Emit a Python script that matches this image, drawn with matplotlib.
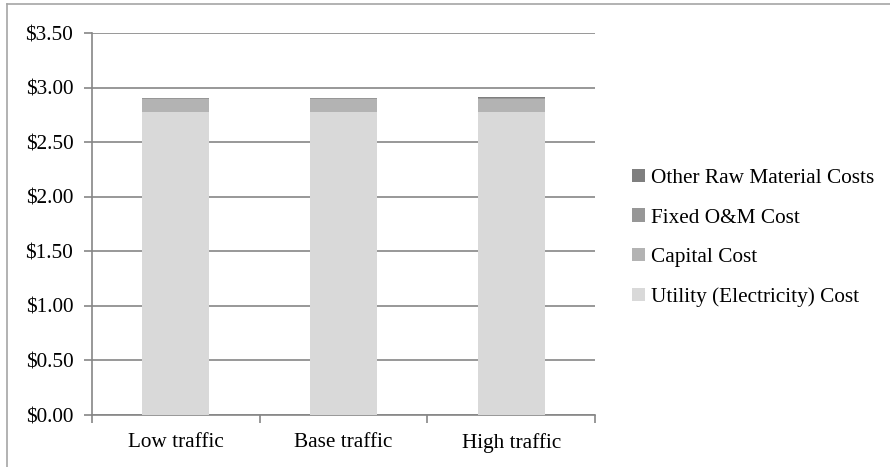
import numpy as np
import matplotlib.pyplot as plt
from matplotlib.patches import Patch
from matplotlib.lines import Line2D

# cost per unit, by traffic scenario
scenarios = ["Low traffic", "Base traffic", "High traffic"]
utility = [2.78, 2.78, 2.78]
capital = [0.115, 0.115, 0.115]
fixed_om = [0.006, 0.010, 0.012]
other_raw = [0.002, 0.002, 0.003]

series = [
    ("Utility (Electricity) Cost", utility, "#d9d9d9"),
    ("Capital Cost", capital, "#b3b3b3"),
    ("Fixed O&M Cost", fixed_om, "#979797"),
    ("Other Raw Material Costs", other_raw, "#7f7f7f"),
]

plt.rcParams["font.family"] = ["Liberation Serif", "DejaVu Serif"]
FS = 15.3

fig = plt.figure(figsize=(8.9, 4.67), dpi=100)
ax = fig.add_axes([92 / 890, 1 - 415 / 467, (595 - 92) / 890, (415 - 33) / 467])

x = np.arange(len(scenarios))
bottom = np.zeros(len(scenarios))
handles = []
for name, vals, color in series:
    ax.bar(x, vals, width=0.4, bottom=bottom, color=color, zorder=3)
    bottom += np.array(vals)
    handles.append(Patch(facecolor=color, label=name))

ax.set_xlim(-0.5, len(scenarios) - 0.5)
ax.set_ylim(0, 3.5)
ax.set_yticks(np.arange(0, 3.51, 0.5))
ax.set_yticklabels([f"${v:.2f}" for v in np.arange(0, 3.51, 0.5)])
ax.yaxis.grid(True, color="#868686", linewidth=1.2, zorder=0)

ax.set_xticks(x)
ax.set_xticklabels(scenarios)
ax.set_xticks(np.arange(-0.5, len(scenarios)), minor=True)
ax.tick_params(axis="x", which="major", length=0, pad=13, labelsize=FS)
ax.tick_params(axis="x", which="minor", length=6, color="#868686", width=1.2)
ax.tick_params(axis="y", length=6, color="#868686", width=1.2, pad=7.5, labelsize=FS)

for side in ["top", "right"]:
    ax.spines[side].set_visible(False)
for side in ["left", "bottom"]:
    ax.spines[side].set_color("#868686")
    ax.spines[side].set_linewidth(1.2)

leg = fig.legend(handles=handles[::-1], loc="center left",
                 bbox_to_anchor=(613 / 890, 1 - 238 / 467),
                 frameon=False, fontsize=FS, handlelength=0.6,
                 handleheight=0.6, handletextpad=0.3, labelspacing=0.95)

# outer chart border
fig.add_artist(Line2D([7 / 890, 7 / 890], [0, 1 - 4 / 467], color="#a6a6a6", lw=1.2))
fig.add_artist(Line2D([7 / 890, 1], [1 - 4 / 467, 1 - 4 / 467], color="#a6a6a6", lw=1.2))

fig.savefig("out.png", dpi=100)
